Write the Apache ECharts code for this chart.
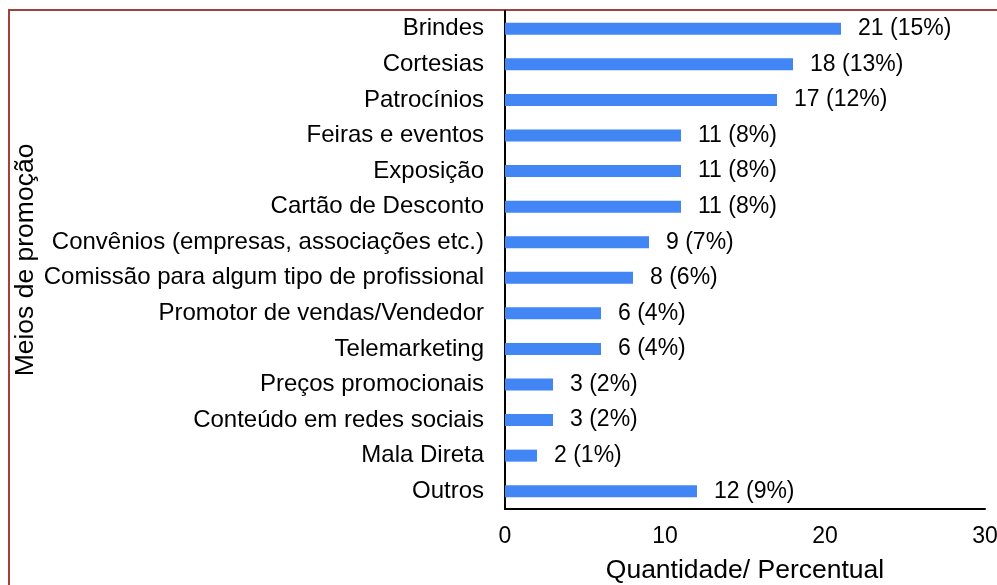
<!DOCTYPE html>
<html>
<head>
    <meta charset="UTF-8">
    <title>Meios de promoção</title>
    <script src="https://cdn.jsdelivr.net/npm/echarts@6/dist/echarts.min.js"></script>
    <style>
        html, body { margin: 0; padding: 0; background: #fff; }
        #main { width: 997px; height: 585px; }
    </style>
</head>
<body>
<div id="main"></div>
<script type="text/javascript">
    // categorias (de cima para baixo)
    var meios = [
        'Brindes',
        'Cortesias',
        'Patrocínios',
        'Feiras e eventos',
        'Exposição',
        'Cartão de Desconto',
        'Convênios (empresas, associações etc.)',
        'Comissão para algum tipo de profissional',
        'Promotor de vendas/Vendedor',
        'Telemarketing',
        'Preços promocionais',
        'Conteúdo em redes sociais',
        'Mala Direta',
        'Outros'
    ];
    var quantidade = [21, 18, 17, 11, 11, 11, 9, 8, 6, 6, 3, 3, 2, 12];
    var percentual = [15, 13, 12, 8, 8, 8, 7, 6, 4, 4, 2, 2, 1, 9];
    var ticksX = [0, 10, 20, 30];

    var fonte = '"Liberation Sans", Arial, sans-serif';
    var myChart = echarts.init(document.getElementById('main'));

    var option = {
        backgroundColor: '#fff',
        animation: false,
        textStyle: { fontFamily: fonte, color: '#000' },
        graphic: [{
            type: 'rect',
            shape: { x: 9, y: 10, width: 1200, height: 800 },
            style: { fill: 'none', stroke: '#a0403f', lineWidth: 2 },
            silent: true
        }],
        grid: {
            left: 505,
            right: 12,
            top: 11,
            bottom: 76,
            containLabel: false,
            outerBoundsMode: 'none'   // não encolher o grid por causa dos rótulos
        },
        xAxis: {
            type: 'value',
            min: ticksX[0],
            max: ticksX[ticksX.length - 1],
            interval: ticksX[1] - ticksX[0],
            name: 'Quantidade/ Percentual',
            nameLocation: 'middle',
            nameGap: 48,
            nameTextStyle: { fontSize: 26.5, color: '#000', fontFamily: fonte },
            axisLine: { show: true, lineStyle: { color: '#000', width: 2 } },
            axisTick: { show: false },
            splitLine: { show: false },
            axisLabel: { fontSize: 23, color: '#000', margin: 16, fontFamily: fonte }
        },
        yAxis: {
            type: 'category',
            inverse: true,
            data: meios,
            name: 'Meios de promoção',
            nameLocation: 'middle',
            nameGap: 466,
            nameRotate: 90,
            nameTextStyle: { fontSize: 26.5, color: '#000', fontFamily: fonte },
            axisLine: { show: true, lineStyle: { color: '#000', width: 2 } },
            axisTick: { show: false },
            axisLabel: { fontSize: 24, color: '#000', margin: 21, fontFamily: fonte }
        },
        series: [{
            type: 'bar',
            data: quantidade,
            barWidth: 12,
            itemStyle: { color: '#4285F4' },
            label: {
                show: true,
                position: 'right',
                distance: 17,
                fontSize: 23,
                color: '#000',
                fontFamily: fonte,
                formatter: function (p) {
                    return quantidade[p.dataIndex] + ' (' + percentual[p.dataIndex] + '%)';
                }
            }
        }]
    };
    myChart.setOption(option);
</script>
</body>
</html>
